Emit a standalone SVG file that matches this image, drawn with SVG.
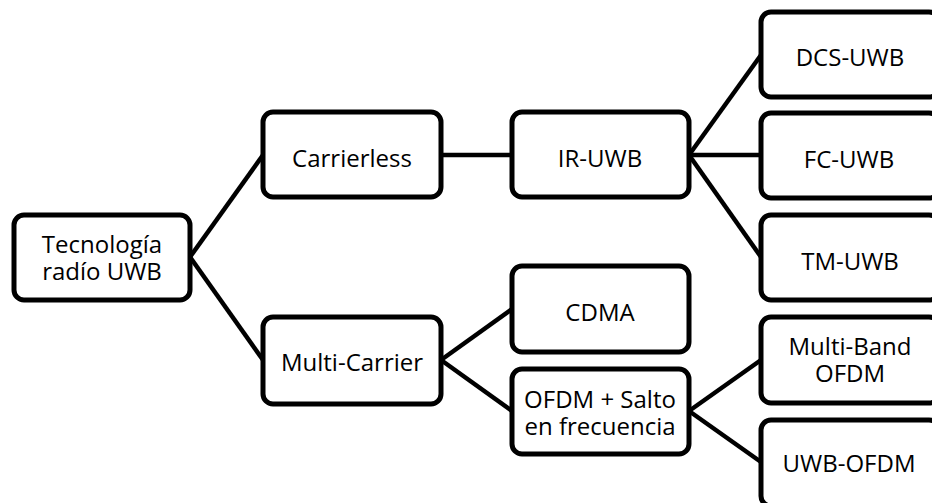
<svg xmlns="http://www.w3.org/2000/svg" width="932" height="503" viewBox="0 0 932 503">
<style>
.box{fill:#fff;stroke:#000;stroke-width:5}
.ln{stroke:#000;stroke-width:4.5;fill:none}
text{font-family:"Open Sans","Liberation Sans",sans-serif;font-size:24px;fill:#000;text-anchor:middle}
</style>
<rect width="932" height="503" fill="#fff"/>
<g id="connectors">
<line class="ln" x1="190" y1="257" x2="263" y2="155"/>
<line class="ln" x1="190" y1="257" x2="263" y2="360"/>
<line class="ln" x1="441" y1="155" x2="512" y2="155"/>
<line class="ln" x1="689" y1="155" x2="761" y2="55"/>
<line class="ln" x1="689" y1="155" x2="761" y2="155"/>
<line class="ln" x1="689" y1="155" x2="761" y2="257"/>
<line class="ln" x1="441" y1="360" x2="512" y2="309"/>
<line class="ln" x1="441" y1="360" x2="512" y2="411"/>
<line class="ln" x1="689" y1="411" x2="761" y2="360"/>
<line class="ln" x1="689" y1="411" x2="761" y2="462"/>
</g>
<g id="root"><rect class="box" x="14" y="215" width="176" height="85" rx="10"/><text x="102" y="253">Tecnología</text><text x="102" y="280">radío UWB</text></g>
<g id="carrierless"><rect class="box" x="263" y="112" width="178" height="85" rx="10"/><text x="352" y="167">Carrierless</text></g>
<g id="ir-uwb"><rect class="box" x="512" y="112" width="177" height="85" rx="10"/><text x="600" y="167">IR-UWB</text></g>
<g id="dcs-uwb"><rect class="box" x="761" y="12" width="178" height="85" rx="10"/><text x="850" y="66">DCS-UWB</text></g>
<g id="fc-uwb"><rect class="box" x="761" y="113" width="178" height="85" rx="10"/><text x="849" y="168">FC-UWB</text></g>
<g id="tm-uwb"><rect class="box" x="761" y="215" width="178" height="85" rx="10"/><text x="850" y="270">TM-UWB</text></g>
<g id="multi-carrier"><rect class="box" x="263" y="317" width="178" height="87" rx="10"/><text x="352" y="371">Multi-Carrier</text></g>
<g id="cdma"><rect class="box" x="512" y="266" width="177" height="86" rx="10"/><text x="600" y="321">CDMA</text></g>
<g id="ofdm-salto"><rect class="box" x="512" y="369" width="177" height="85" rx="10"/><text x="600" y="408">OFDM + Salto</text><text x="600" y="435">en frecuencia</text></g>
<g id="multi-band"><rect class="box" x="761" y="317" width="178" height="86" rx="10"/><text x="850" y="355">Multi-Band</text><text x="850" y="382">OFDM</text></g>
<g id="uwb-ofdm"><rect class="box" x="761" y="420" width="178" height="86" rx="10"/><text x="849" y="472">UWB-OFDM</text></g>
</svg>
